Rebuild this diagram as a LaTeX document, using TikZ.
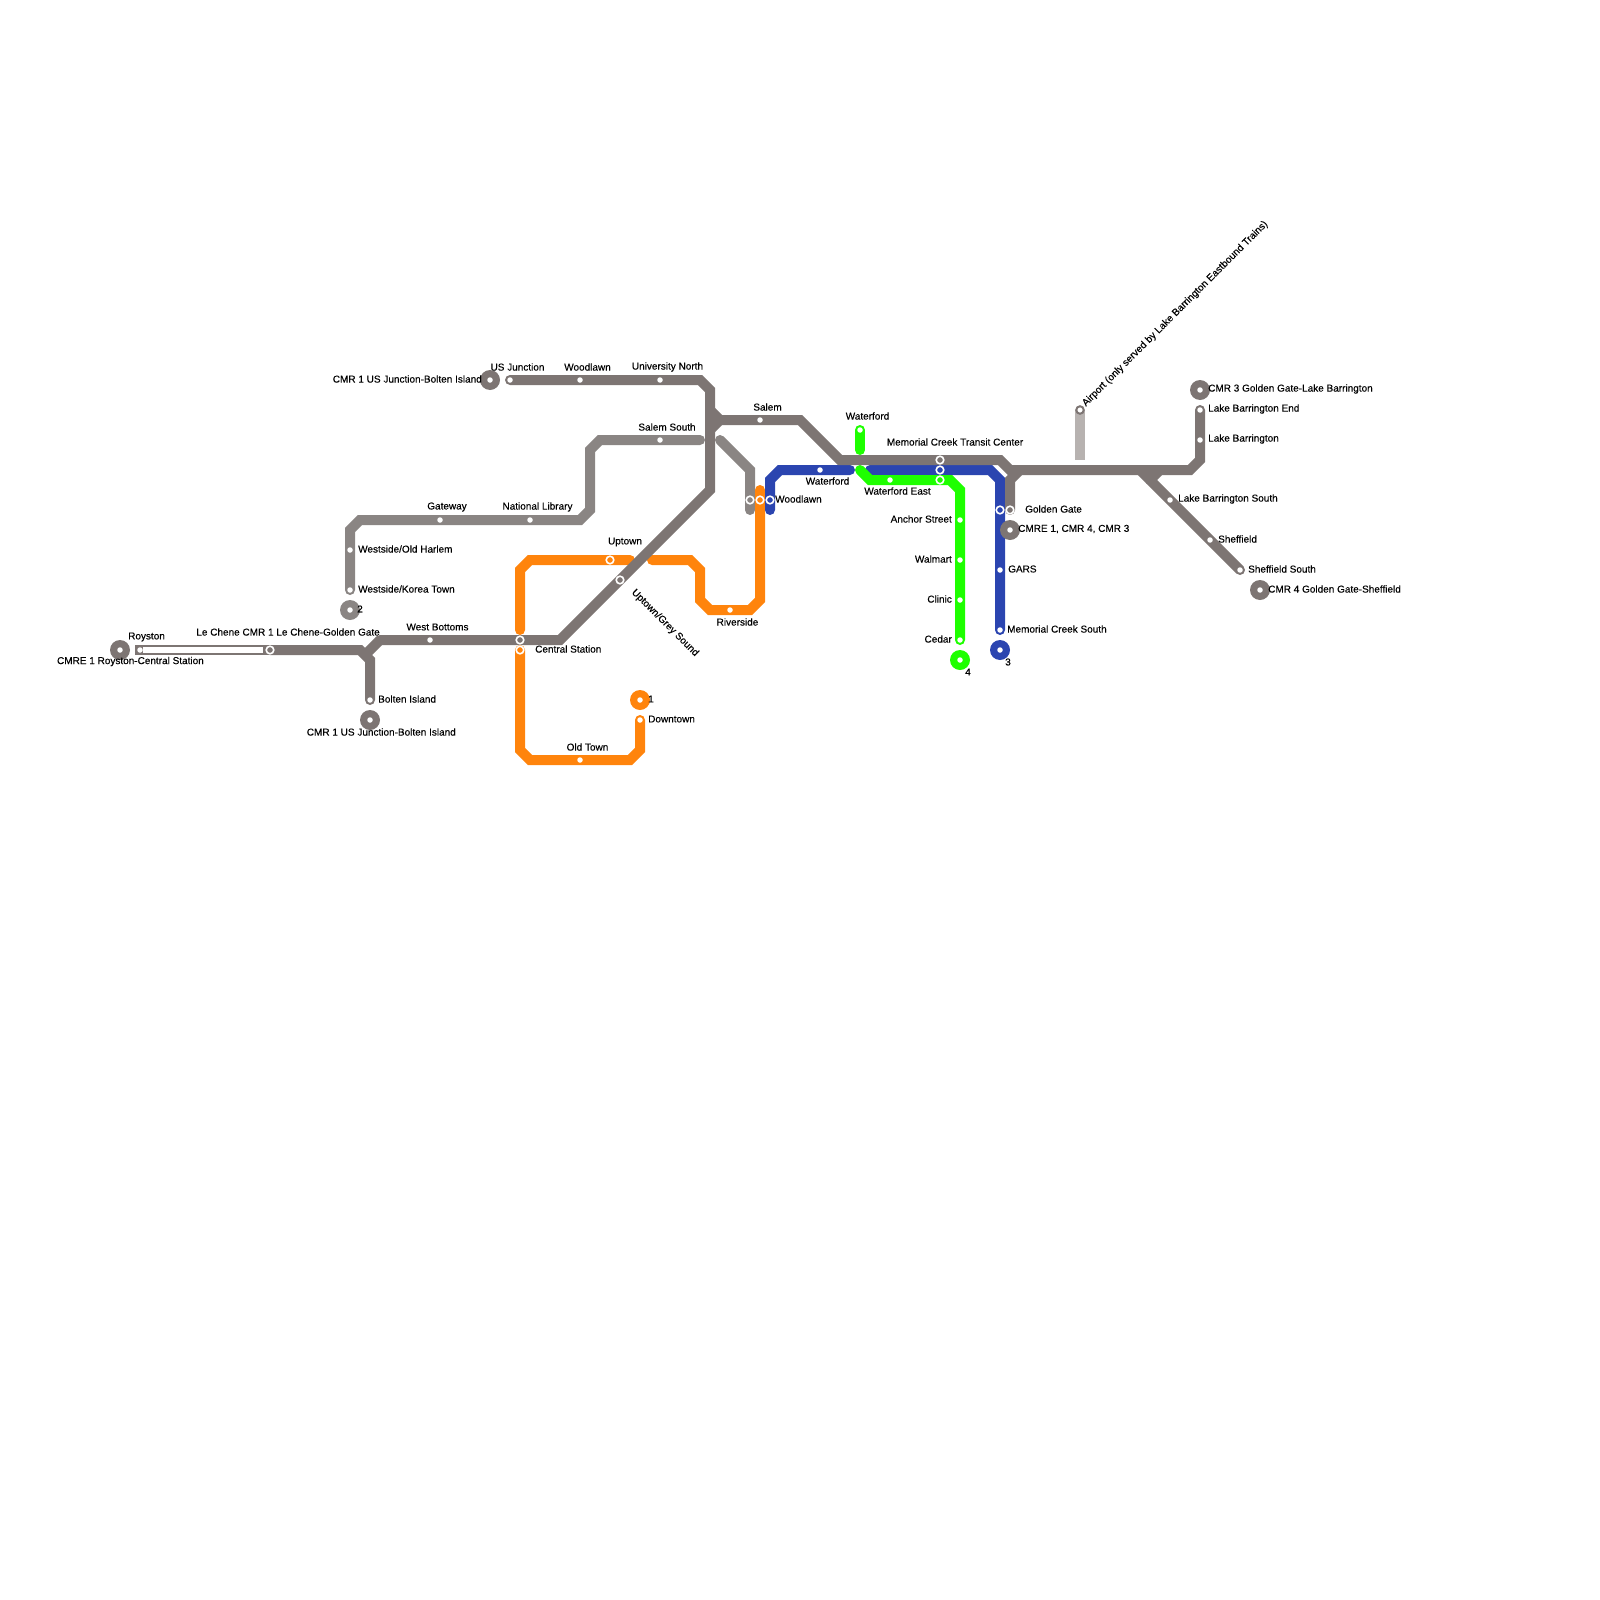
\documentclass[tikz,border=0pt]{standalone}
\usepackage{fontspec}
\setmainfont[FakeBold=0.25]{Liberation Sans}
\usetikzlibrary{arrows.meta,calc,positioning}
\definecolor{darkline}{HTML}{7D7573}
\definecolor{midline}{HTML}{8A8583}
\definecolor{paleline}{HTML}{B7B2B0}
\definecolor{orangeline}{HTML}{FF840C}
\definecolor{blueline}{HTML}{2B45B0}
\definecolor{greenline}{HTML}{1EFF00}
\tikzset{
  route/.style     = {line width=10pt, line cap=round, line join=miter},
  station/.style   = {circle, fill=white, inner sep=0pt, minimum size=5.5pt},
  stopring/.style  = {circle, draw=white, line width=1.6pt, inner sep=0pt, minimum size=7.6pt},
  hub/.style       = {circle, inner sep=0pt, minimum size=20pt},
  stoplabel/.style = {font=\fontsize{10}{12}\selectfont, inner sep=0pt},
}

\begin{document}
\begin{tikzpicture}[x=1pt, y=-1pt]
  \useasboundingbox (0,0) rectangle (1600,1600);

  % ---- mid grey line ------------------------------------------------------
  \draw[route,midline] (350,590) -- (350,530) -- (360,520) -- (580,520) -- (590,510)
        -- (590,450) -- (600,440) -- (700,440);
  \draw[route,midline] (720,440) -- (750,470) -- (750,510);

  % ---- orange line --------------------------------------------------------
  \draw[route,orangeline] (520,630) -- (520,570) -- (530,560) -- (630,560);
  \draw[route,orangeline] (652,560) -- (690,560) -- (700,570) -- (700,600) -- (710,610)
        -- (750,610) -- (760,600) -- (760,490);
  \draw[route,orangeline] (520,650) -- (520,750) -- (530,760) -- (630,760) -- (640,750) -- (640,720);

  % ---- blue line ----------------------------------------------------------
  \draw[route,blueline] (770,510) -- (770,480) -- (780,470) -- (850,470);
  \draw[route,blueline] (870,470) -- (990,470) -- (1000,480) -- (1000,630);

  % ---- green line ---------------------------------------------------------
  \draw[route,greenline] (860,430) -- (860,450);
  \draw[route,greenline] (860,470) -- (870,480) -- (950,480) -- (960,490) -- (960,640);

  % ---- airport spur -------------------------------------------------------
  \draw[line width=10pt,paleline] (1080,410) -- (1080,460);

  % ---- main dark line and its branches ------------------------------------
  \draw[line width=10pt,darkline] (135,650) -- (270,650);
  \draw[line width=6.4pt,white] (143,650) -- (263,650);
  \draw[route,darkline] (270,650) -- (360,650) -- (370,660) -- (370,700);
  \draw[route,darkline,line cap=butt] (365,655) -- (380,640);
  \draw[route,darkline] (380,640) -- (560,640) -- (710,490) -- (710,390) -- (700,380) -- (510,380);
  \draw[route,darkline,line cap=butt] (710,410) -- (720,420) -- (710,430);
  \draw[route,darkline] (720,420) -- (800,420) -- (840,460) -- (1000,460) -- (1010,470) -- (1190,470)
        -- (1200,460) -- (1200,410);
  \draw[route,darkline] (1020,470) -- (1010,480) -- (1010,510);
  \draw[route,darkline] (1140,470) -- (1240,570);
  \draw[route,darkline] (1160,470) -- (1150,480);

  % ---- hubs ---------------------------------------------------------------
  \node[hub,fill=darkline] (hubroyston) at (120,650) {};
  \node[hub,fill=darkline] (hubbolten) at (370,720) {};
  \node[hub,fill=midline] (hubtwo) at (350,610) {};
  \node[hub,fill=darkline] (hubus) at (490,380) {};
  \node[hub,fill=orangeline] (hubone) at (640,700) {};
  \node[hub,fill=greenline] (hubfour) at (960,660) {};
  \node[hub,fill=blueline] (hubthree) at (1000,650) {};
  \node[hub,fill=darkline] (hubgolden) at (1010,530) {};
  \node[hub,fill=darkline] (hubbarrington) at (1200,390) {};
  \node[hub,fill=darkline] (hubsheffield) at (1260,590) {};
  \foreach \p in {hubroyston,hubbolten,hubtwo,hubus,hubone,hubfour,hubthree,hubgolden,hubbarrington,hubsheffield}
    { \node[station] at (\p) {}; }

  % ---- plain stations -----------------------------------------------------
  \foreach \x/\y in {140/650,370/700,430/640,350/550,350/590,440/520,530/520,660/440,
                     510/380,580/380,660/380,760/420,730/610,580/760,640/720,
                     820/470,860/430,890/480,960/520,960/560,960/600,960/640,
                     1000/570,1000/630,1200/410,1200/440,1170/500,1210/540,1240/570}
    { \node[station] at (\x,\y) {}; }

  % ---- ringed stations ----------------------------------------------------
  \node[stopring,fill=darkline] (lechene) at (270,650) {};
  \node[stopring,fill=darkline] (central) at (520,640) {};
  \node[stopring,fill=orangeline] (centralb) at (520,650) {};
  \node[stopring,fill=orangeline] (uptown) at (610,560) {};
  \node[stopring,fill=darkline] (greysound) at (620,580) {};
  \node[stopring,fill=midline] (woodlawna) at (750,500) {};
  \node[stopring,fill=orangeline] (woodlawnb) at (760,500) {};
  \node[stopring,fill=blueline] (woodlawnc) at (770,500) {};
  \node[stopring,fill=darkline] (memoriala) at (940,460) {};
  \node[stopring,fill=blueline] (memorialb) at (940,470) {};
  \node[stopring,fill=greenline] (memorialc) at (940,480) {};
  \node[stopring,fill=blueline] (goldena) at (1000,510) {};
  \node[stopring,fill=darkline] (goldenb) at (1010,510) {};
  \node[circle,draw=darkline,fill=white,line width=2pt,inner sep=0pt,minimum size=7.5pt] (airport) at (1080,410) {};

  % ---- names --------------------------------------------------------------
  \node[stoplabel,anchor=west] (nroyston) at (128,637) {Royston};
  \node[stoplabel,anchor=east] (ncmreroyston) at (204,661.5) {CMRE 1 Royston-Central Station};
  \node[stoplabel,anchor=east] (nlechene) at (380,632) {Le Chene CMR 1 Le Chene-Golden Gate};
  \node[stoplabel] (nwest) at (437.5,627) {West Bottoms};
  \node[stoplabel,anchor=west] (nbolten) at (378,699) {Bolten Island};
  \node[stoplabel,anchor=east] (ncmrbolten) at (456,732) {CMR 1 US Junction-Bolten Island};
  \node[stoplabel,anchor=west] (ntwo) at (357,609) {2};
  \node[stoplabel,anchor=west] (nkorea) at (358,589) {Westside/Korea Town};
  \node[stoplabel,anchor=west] (nharlem) at (358,549) {Westside/Old Harlem};
  \node[stoplabel] (ngateway) at (447,507) {Gateway};
  \node[stoplabel] (nlibrary) at (537.5,507) {National Library};
  \node[stoplabel] (nsalemsouth) at (667,427) {Salem South};
  \node[stoplabel] (nuniversity) at (667.5,367) {University North};
  \node[stoplabel] (nwoodlawntop) at (587.5,367) {Woodlawn};
  \node[stoplabel] (nus) at (517.5,367) {US Junction};
  \node[stoplabel,anchor=east] (ncmrus) at (482,379) {CMR 1 US Junction-Bolten Island};
  \node[stoplabel] (nuptown) at (625,542) {Uptown};
  \node[stoplabel,anchor=west] (ncentral) at (535,649) {Central Station};
  \node[stoplabel] (nriverside) at (737.5,622) {Riverside};
  \node[stoplabel,anchor=west] (none) at (648,699) {1};
  \node[stoplabel,anchor=west] (ndowntown) at (648,719) {Downtown};
  \node[stoplabel] (noldtown) at (587.5,747) {Old Town};
  \node[stoplabel,rotate=-45] (ngrey) at (665,623) {Uptown/Grey Sound};
  \node[stoplabel] (nsalem) at (767.5,407) {Salem};
  \node[stoplabel] (nwaterfordup) at (867.5,416) {Waterford};
  \node[stoplabel] (nmemorial) at (955,442) {Memorial Creek Transit Center};
  \node[stoplabel] (nwaterfordlow) at (827.5,481) {Waterford};
  \node[stoplabel] (nwaterfordeast) at (897.5,491) {Waterford East};
  \node[stoplabel,anchor=west] (nwoodlawn) at (775,499) {Woodlawn};
  \node[stoplabel,anchor=east] (nanchor) at (952,519) {Anchor Street};
  \node[stoplabel,anchor=east] (nwalmart) at (952,559) {Walmart};
  \node[stoplabel,anchor=east] (nclinic) at (952,599) {Clinic};
  \node[stoplabel,anchor=east] (ncedar) at (952,639) {Cedar};
  \node[stoplabel,anchor=west] (nfour) at (965,672) {4};
  \node[stoplabel,anchor=west] (nthree) at (1005,662) {3};
  \node[stoplabel,anchor=west] (nmemsouth) at (1007,629) {Memorial Creek South};
  \node[stoplabel,anchor=west] (ngolden) at (1025,509) {Golden Gate};
  \node[stoplabel,anchor=west] (ncmregolden) at (1018,529) {CMRE 1, CMR 4, CMR 3};
  \node[stoplabel,anchor=west] (ngars) at (1008,569) {GARS};
  \node[stoplabel,anchor=west] (ncmrbarr) at (1208,389) {CMR 3 Golden Gate-Lake Barrington};
  \node[stoplabel,anchor=west] (nlakeend) at (1208,409) {Lake Barrington End};
  \node[stoplabel,anchor=west] (nlake) at (1208,439) {Lake Barrington};
  \node[stoplabel,anchor=west] (nlakesouth) at (1178,499) {Lake Barrington South};
  \node[stoplabel,anchor=west] (nsheffield) at (1218,539) {Sheffield};
  \node[stoplabel,anchor=west] (nsheffsouth) at (1248,569) {Sheffield South};
  \node[stoplabel,anchor=west] (ncmrsheff) at (1268,589) {CMR 4 Golden Gate-Sheffield};
  \node[stoplabel,anchor=west,rotate=45] (nairport) at (1084,405) {Airport (only served by Lake Barrington Eastbound Trains)};
\end{tikzpicture}
\end{document}
